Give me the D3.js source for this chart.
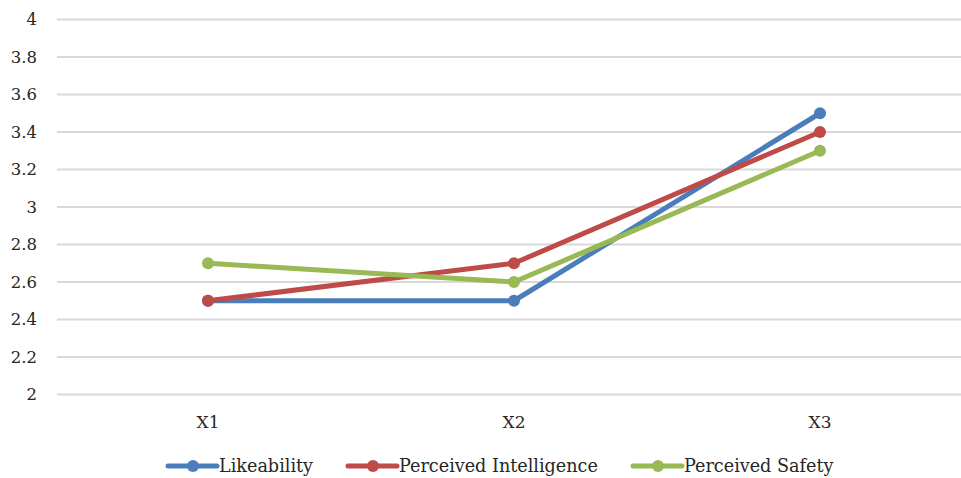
<!DOCTYPE html>
<html><head><meta charset="utf-8">
<script src="https://cdn.jsdelivr.net/npm/d3@7"></script>
<style>body{margin:0;background:#fff}svg{display:block}text{font-family:"DejaVu Serif","Liberation Serif",serif;fill:#262626}</style>
</head><body><svg id="c" width="961" height="478"></svg>
<script>
const categories = ["X1","X2","X3"];
const seriesNames = ["Likeability","Perceived Intelligence","Perceived Safety"];
const likeability = [2.5,2.5,3.5];
const intelligence = [2.5,2.7,3.4];
const safety = [2.7,2.6,3.3];
const yTicks = [2,2.2,2.4,2.6,2.8,3,3.2,3.4,3.6,3.8,4];
const colors = ["#4a7ebb","#be4b48","#98b954"];
const seriesValues = [likeability,intelligence,safety];

const svg = d3.select("#c");
const x = d3.scalePoint().domain(categories).range([208,820]);
const y = d3.scaleLinear().domain([2,4]).range([394.5,19.5]);

svg.append("g").selectAll("line").data(yTicks).join("line")
  .attr("x1",57).attr("x2",961).attr("y1",d=>y(d)).attr("y2",d=>y(d))
  .attr("stroke","#d9d9d9").attr("stroke-width",2);

svg.append("g").selectAll("text").data(yTicks).join("text")
  .attr("x",37).attr("y",d=>y(d)).attr("dy","0.35em").attr("text-anchor","end")
  .attr("font-size",16.5).text(d=>d3.format("")(d));

svg.append("g").selectAll("text").data(categories).join("text")
  .attr("x",d=>x(d)).attr("y",422).attr("dy","0.35em").attr("text-anchor","middle")
  .attr("font-size",17).text(d=>d);

const line = d3.line().x((d,i)=>x(categories[i])).y(d=>y(d));
seriesValues.forEach((vals,s)=>{
  const g = svg.append("g");
  g.append("path").attr("d",line(vals)).attr("fill","none").attr("stroke",colors[s])
    .attr("stroke-width",5).attr("stroke-linejoin","round").attr("stroke-linecap","round");
  g.selectAll("circle").data(vals).join("circle")
    .attr("cx",(d,i)=>x(categories[i])).attr("cy",d=>y(d)).attr("r",6).attr("fill",colors[s]);
});

const legX = [168,348,633];
const lg = svg.append("g");
seriesNames.forEach((n,s)=>{
  const g = lg.append("g").attr("transform",`translate(${legX[s]},466)`);
  g.append("line").attr("x1",0).attr("x2",49).attr("stroke",colors[s]).attr("stroke-width",5).attr("stroke-linecap","round");
  g.append("circle").attr("cx",25).attr("r",6).attr("fill",colors[s]);
  g.append("text").attr("x",51).attr("dy","0.35em").attr("font-size",17.6).text(n);
});
</script></body></html>
